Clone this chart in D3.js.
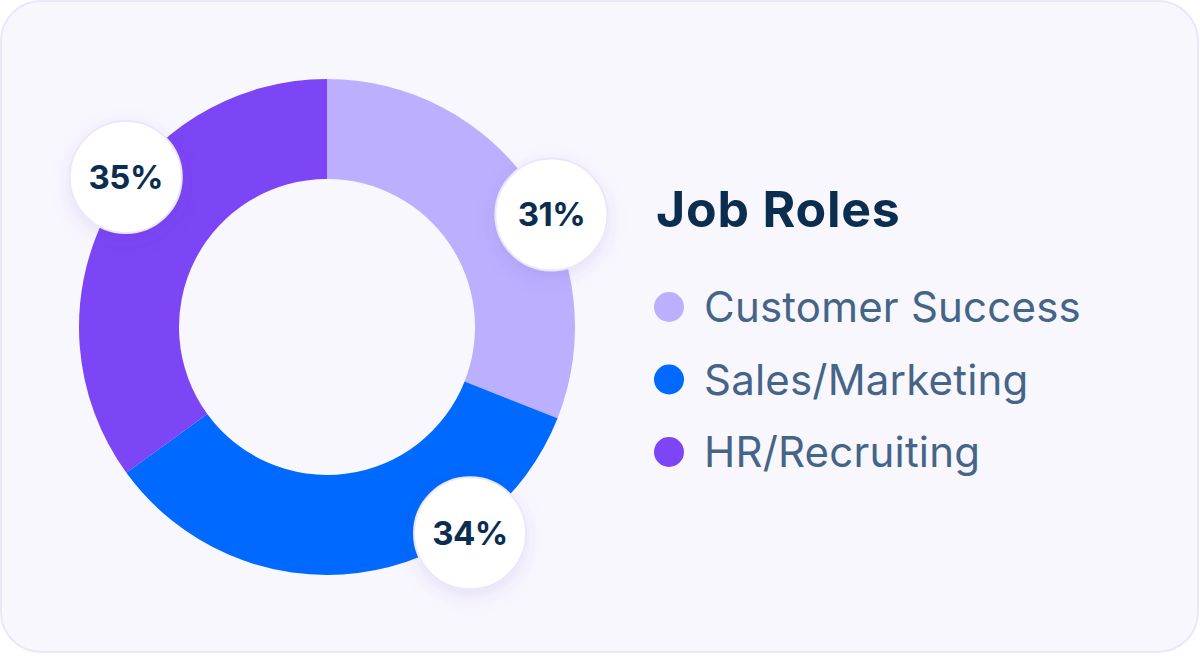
<!DOCTYPE html>
<html>
<head>
<meta charset="utf-8">
<script src="https://cdn.jsdelivr.net/npm/d3@7/dist/d3.min.js"></script>
<style>
html,body{margin:0;padding:0;background:#ffffff;}
svg{display:block;}
</style>
</head>
<body>
<svg id="chart" width="1200" height="662"></svg>
<script>
const categories = ["Customer Success", "Sales/Marketing", "HR/Recruiting"];
const values = [31, 34, 35];
const labels = ["31%", "34%", "35%"];
const colors = ["#bcaffe", "#0069ff", "#7c45f5"];
const title = "Job Roles";

// layout (not data)
const labelFraction = [0.568, 0.275, 0.577];

const svg = d3.select("#chart");
const defs = svg.append("defs");
const f = defs.append("filter").attr("id","sh").attr("x","-50%").attr("y","-50%").attr("width","200%").attr("height","200%");
f.append("feDropShadow").attr("dx",0).attr("dy",6).attr("stdDeviation",9).attr("flood-color","#5a3fb0").attr("flood-opacity",0.13);

svg.append("rect").attr("x",1).attr("y",1).attr("width",1197).attr("height",651)
  .attr("rx",40).attr("fill","#f9f7fe").attr("stroke","#ece6fb").attr("stroke-width",2);

const cx = 327, cy = 327, outerR = 248, innerR = 148;
const g = svg.append("g").attr("transform",`translate(${cx},${cy})`);

const pie = d3.pie().sort(null).value(d=>d)(values);
const arc = d3.arc().innerRadius(innerR).outerRadius(outerR);
g.selectAll("path.slice").data(pie).join("path").attr("class","slice")
  .attr("d",arc).attr("fill",(d,i)=>colors[i]);

const labelR = outerR + 3;
const lg = g.selectAll("g.lab").data(pie).join("g").attr("class","lab")
  .attr("transform",(d,i)=>{
    const a = d.startAngle + (d.endAngle-d.startAngle)*labelFraction[i];
    return `translate(${labelR*Math.sin(a)},${-labelR*Math.cos(a)})`;
  });
lg.append("circle").attr("r",56).attr("fill","#ffffff").attr("stroke","#ece6fb").attr("stroke-width",2).attr("filter","url(#sh)");
lg.append("text").attr("text-anchor","middle").attr("dy","0.36em")
  .attr("font-family","Inter, 'Noto Sans', sans-serif").attr("font-weight",700).attr("font-size",33)
  .attr("letter-spacing","-0.5").attr("fill","#0b2d50").text((d,i)=>labels[i]);

svg.append("text").attr("x",656).attr("y",227)
  .attr("font-family","Inter, 'Noto Sans', sans-serif").attr("font-weight",700).attr("font-size",50)
  .attr("letter-spacing","0.8").attr("fill","#0b2d50").text(title);

const y = d3.scalePoint().domain(categories).range([307, 452]);
const leg = svg.selectAll("g.leg").data(categories).join("g").attr("class","leg")
  .attr("transform",d=>`translate(0,${y(d)})`);
leg.append("circle").attr("cx",669).attr("cy",0).attr("r",15).attr("fill",(d,i)=>colors[i]);
leg.append("text").attr("x",704).attr("y",15)
  .attr("font-family","Inter, 'Noto Sans', sans-serif").attr("font-weight",400).attr("font-size",42)
  .attr("letter-spacing","0.2").attr("fill","#456588").text(d=>d);
</script>
</body>
</html>
